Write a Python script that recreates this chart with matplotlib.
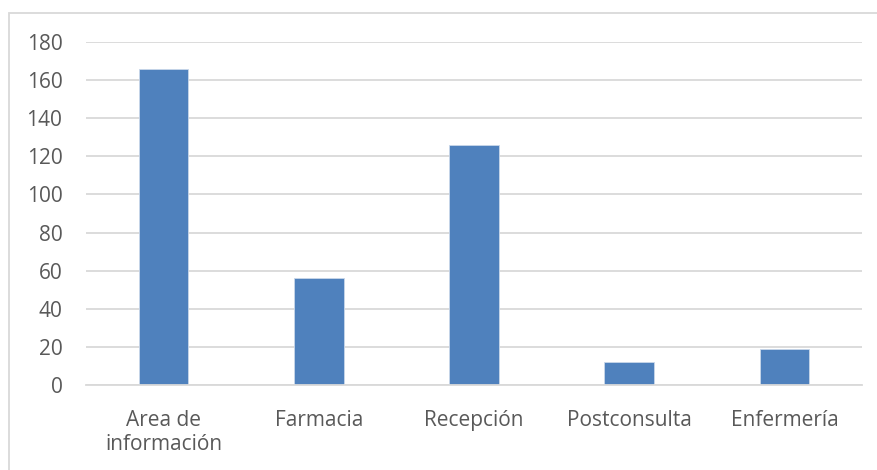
import matplotlib
matplotlib.use("Agg")
import matplotlib.pyplot as plt
from matplotlib.patches import Rectangle

categories = ["Area de\ninformación", "Farmacia", "Recepción", "Postconsulta", "Enfermería"]
values = [166, 56, 126, 12, 19]
yticks = [0, 20, 40, 60, 80, 100, 120, 140, 160, 180]

plt.rcParams["font.family"] = ["Open Sans", "DejaVu Sans"]
text_color = "#595959"
grid_color = "#d9d9d9"

fig = plt.figure(figsize=(8.78, 4.70), dpi=100)
fig.patch.set_facecolor("white")

# chart-area frame
fig.patches.append(Rectangle((9 / 878, -0.1), 1.2, 1 - 13 / 470 + 0.1,
                             transform=fig.transFigure, fill=False,
                             edgecolor=grid_color, linewidth=1.3))

ax = fig.add_axes([86 / 878, 1 - 385 / 470, (862 - 86) / 878, (385 - 42) / 470])
x = range(len(categories))
ax.bar(x, values, width=0.32, color="#4f81bd", edgecolor="#c9d7ea", linewidth=0.6, zorder=3)

ax.set_xlim(-0.5, len(categories) - 0.5)
ax.set_ylim(0, 180)
ax.set_yticks(yticks)
ax.set_yticklabels([str(v) for v in yticks])
ax.set_xticks(list(x))
ax.set_xticklabels(categories, linespacing=1.2)

ax.grid(axis="y", color=grid_color, linewidth=1.3, zorder=0)
for s in ["top", "right", "left"]:
    ax.spines[s].set_visible(False)
ax.spines["bottom"].set_color(grid_color)
ax.spines["bottom"].set_linewidth(1.3)
ax.spines["bottom"].set_zorder(4)

ax.tick_params(axis="both", length=0, labelsize=15, labelcolor=text_color)
ax.tick_params(axis="y", pad=17)
ax.tick_params(axis="x", pad=18)

fig.savefig("out.png", dpi=100, facecolor="white")
